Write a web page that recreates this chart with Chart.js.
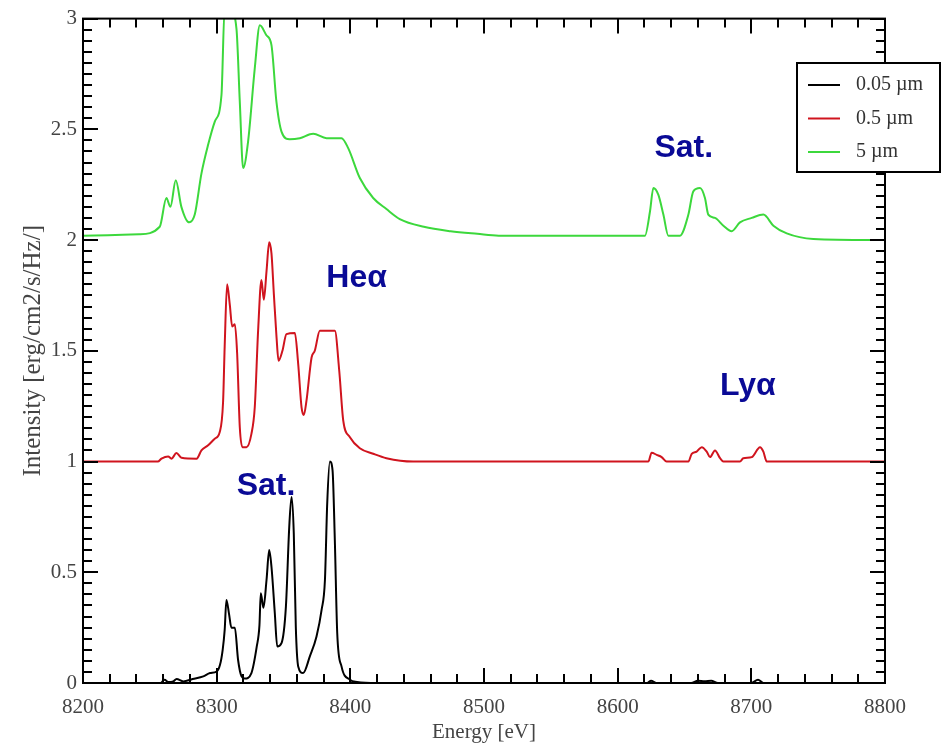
<!DOCTYPE html>
<html>
<head>
<meta charset="utf-8">
<script src="https://cdn.jsdelivr.net/npm/chart.js@4/dist/chart.umd.min.js"></script>
<style>
  body { margin: 0; background: #fff; }
  canvas { display: block; }
</style>
</head>
<body>
<canvas id="chart" width="946" height="747"></canvas>
<script>
// spectra: energy [eV] and intensity for each slab thickness
const blackEnergy = [8200, 8258, 8261, 8264, 8267.5, 8270, 8275, 8282, 8290, 8295,
  8300, 8302.5, 8304.5, 8306, 8307.3, 8309.3, 8311, 8313.6, 8316, 8318.6,
  8321, 8326, 8330, 8332, 8333, 8335, 8337.3, 8339.3, 8341, 8343.5,
  8345.3, 8348.5, 8351.8, 8354.3, 8356, 8357.7, 8359.2, 8361, 8364.7, 8369.7,
  8374.7, 8378.5, 8381, 8382.7, 8384.7, 8386.7, 8388.4, 8390.2, 8393.4, 8399.7,
  8405, 8420, 8622, 8625, 8629, 8655, 8660, 8665, 8670, 8675,
  8700, 8705, 8709, 8800];
const blackIntensity = [0, 0, 0.015, 0.004, 0.007, 0.018, 0.007, 0.018, 0.03, 0.045,
  0.052, 0.082, 0.15, 0.24, 0.375, 0.31, 0.25, 0.25, 0.105, 0.03,
  0.02, 0.045, 0.165, 0.26, 0.405, 0.34, 0.465, 0.6, 0.525, 0.315,
  0.165, 0.18, 0.345, 0.705, 0.84, 0.675, 0.255, 0.075, 0.045, 0.12,
  0.21, 0.33, 0.465, 0.81, 1.0, 0.96, 0.645, 0.225, 0.075, 0.015,
  0.005, 0, 0, 0.01, 0, 0, 0.01, 0.008, 0.01, 0,
  0, 0.015, 0, 0];

const redEnergy = [8200, 8256, 8258.7, 8263.7, 8266.2, 8269.9, 8273.7, 8285, 8288.6, 8293.6,
  8298.6, 8302.3, 8304.8, 8306, 8307.8, 8309.8, 8311.6, 8313.6, 8315.3, 8317.3,
  8319.3, 8322.3, 8326, 8328.5, 8331, 8333.5, 8335.3, 8337.3, 8339.3, 8341,
  8342.8, 8344.8, 8346.3, 8349.2, 8352.2, 8358.5, 8361, 8363.5, 8365.2, 8367.2,
  8371, 8373.4, 8377.2, 8388.4, 8391.7, 8394.7, 8399.7, 8407.1, 8417.1, 8427,
  8447, 8623, 8625.4, 8629.2, 8632.9, 8636.6, 8652.9, 8655.4, 8659.1, 8662.9,
  8666.6, 8669.1, 8672.8, 8676.6, 8679.1, 8691.5, 8694, 8700.3, 8706.5, 8709,
  8711.5, 8800];
const redIntensity = [1.0, 1.0, 1.013, 1.023, 1.013, 1.038, 1.017, 1.013, 1.05, 1.073,
  1.103, 1.133, 1.27, 1.52, 1.80, 1.71, 1.61, 1.62, 1.49, 1.155,
  1.065, 1.065, 1.125, 1.245, 1.59, 1.82, 1.73, 1.86, 1.99, 1.94,
  1.755, 1.56, 1.455, 1.5, 1.575, 1.58, 1.44, 1.245, 1.21, 1.275,
  1.47, 1.5, 1.59, 1.59, 1.41, 1.185, 1.11, 1.06, 1.035, 1.015,
  1.0, 1.0, 1.04, 1.03, 1.02, 1.0, 1.0, 1.035, 1.045, 1.065,
  1.045, 1.02, 1.05, 1.015, 1.0, 1.0, 1.015, 1.02, 1.065, 1.045,
  1.0, 1.0];

const greenEnergy = [8200, 8242, 8257.4, 8262.4, 8265.4, 8269.4, 8273.6, 8279.4, 8283.6, 8288.6,
  8293.6, 8298.6, 8303.6, 8306, 8309.8, 8314.8, 8317.3, 8319.8, 8323.5, 8328.5,
  8332.3, 8337.2, 8341, 8344.7, 8348.5, 8354.7, 8362.2, 8372.2, 8382.2, 8393.4,
  8398.4, 8407.1, 8417.1, 8427, 8437, 8455, 8475, 8495, 8511, 8620.4,
  8624.2, 8626.7, 8630.4, 8634.2, 8637.9, 8646.6, 8652.9, 8656.6, 8661.6, 8665.3,
  8667.8, 8672.8, 8679.1, 8685.3, 8691.5, 8700.3, 8709, 8716.5, 8726.5, 8746.4,
  8800];
const greenIntensity = [2.02, 2.026, 2.06, 2.19, 2.15, 2.27, 2.15, 2.08, 2.115, 2.30,
  2.43, 2.535, 2.655, 3.05, 3.05, 2.955, 2.625, 2.325, 2.445, 2.775,
  2.97, 2.925, 2.88, 2.625, 2.49, 2.455, 2.46, 2.48, 2.46, 2.46,
  2.415, 2.28, 2.19, 2.14, 2.095, 2.06, 2.04, 2.028, 2.02, 2.02,
  2.13, 2.235, 2.205, 2.115, 2.02, 2.02, 2.115, 2.22, 2.235, 2.19,
  2.115, 2.10, 2.065, 2.04, 2.08, 2.10, 2.115, 2.065, 2.03, 2.005,
  2.0];

const seriesLabels = ['0.05 \u00b5m', '0.5 \u00b5m', '5 \u00b5m'];
const seriesColors = ['#000000', '#d0141e', '#3cd83c'];

// line labels placed in data coordinates (left edge, vertical middle)
const noteTexts = ['Sat.', 'He\u03b1', 'Ly\u03b1', 'Sat.'];
const noteEnergy = [8627.5, 8382, 8676.5, 8315];
const noteIntensity = [2.415, 1.83, 1.34, 0.89];

const xMin = 8200, xMax = 8800, xMajor = 100, xMinor = 20;
const yMin = 0, yMax = 3, yMajor = 0.5, yMinor = 0.05;

const serif = "'Liberation Serif', 'Times New Roman', serif";

function toPoints(xs, ys) {
  return xs.map((e, i) => ({ x: e, y: ys[i] }));
}

const datasets = [
  toPoints(blackEnergy, blackIntensity),
  toPoints(redEnergy, redIntensity),
  toPoints(greenEnergy, greenIntensity),
].map((pts, i) => ({
  label: seriesLabels[i],
  data: pts,
  borderColor: seriesColors[i],
  borderWidth: 2,
  pointRadius: 0,
  cubicInterpolationMode: 'monotone',
  fill: false,
}));

// frame with inward ticks on all four sides, text labels and the boxed legend
const framePlugin = {
  id: 'frame',
  afterDatasetsDraw(chart) {
    const { ctx, chartArea: a, scales: { x, y } } = chart;
    ctx.save();
    ctx.strokeStyle = '#000';
    ctx.lineWidth = 2;
    ctx.strokeRect(a.left, a.top, a.right - a.left, a.bottom - a.top);

    ctx.beginPath();
    const nx = Math.round((xMax - xMin) / xMinor);
    const perX = Math.round(xMajor / xMinor);
    for (let i = 0; i <= nx; i++) {
      const px = Math.round(x.getPixelForValue(xMin + i * xMinor));
      const len = i % perX === 0 ? 15 : 9;
      ctx.moveTo(px, a.bottom); ctx.lineTo(px, a.bottom - len);
      ctx.moveTo(px, a.top); ctx.lineTo(px, a.top + len);
    }
    const ny = Math.round((yMax - yMin) / yMinor);
    const perY = Math.round(yMajor / yMinor);
    for (let i = 0; i <= ny; i++) {
      const py = Math.round(y.getPixelForValue(yMin + i * yMinor));
      const len = i % perY === 0 ? 15 : 9;
      ctx.moveTo(a.left, py); ctx.lineTo(a.left + len, py);
      ctx.moveTo(a.right, py); ctx.lineTo(a.right - len, py);
    }
    ctx.stroke();

    // annotations
    ctx.fillStyle = '#0a0a96';
    ctx.font = "bold 32px 'Liberation Sans', Arial, sans-serif";
    ctx.textAlign = 'left';
    ctx.textBaseline = 'middle';
    noteTexts.forEach((t, i) => {
      ctx.fillText(t, x.getPixelForValue(noteEnergy[i]), y.getPixelForValue(noteIntensity[i]));
    });

    // legend box
    const bx = 797, by = 63, bw = 143, bh = 109;
    ctx.fillStyle = '#fff';
    ctx.fillRect(bx, by, bw, bh);
    ctx.strokeRect(bx, by, bw, bh);
    ctx.font = '20px ' + serif;
    ctx.textBaseline = 'middle';
    chart.data.datasets.forEach((ds, i) => {
      const ly = by + 22 + i * 33.5;
      ctx.strokeStyle = ds.borderColor;
      ctx.lineWidth = 2;
      ctx.beginPath();
      ctx.moveTo(bx + 11, ly); ctx.lineTo(bx + 43, ly);
      ctx.stroke();
      ctx.fillStyle = '#333';
      ctx.fillText(ds.label, bx + 59, ly);
    });
    ctx.restore();
  }
};

new Chart(document.getElementById('chart'), {
  type: 'line',
  data: { datasets },
  plugins: [framePlugin],
  options: {
    responsive: false,
    animation: false,
    layout: { padding: { top: 17, right: 61, bottom: 0, left: 0 } },
    plugins: { legend: { display: false }, tooltip: { enabled: false } },
    scales: {
      x: {
        type: 'linear',
        min: xMin, max: xMax,
        afterFit: s => { s.height = 64; },
        grid: { display: false, drawTicks: false },
        border: { display: false },
        ticks: {
          stepSize: xMajor,
          padding: 12,
          color: '#444',
          font: { family: serif, size: 21 },
          maxRotation: 0,
          callback: v => String(v),
        },
        title: {
          display: true,
          text: 'Energy [eV]',
          color: '#444',
          font: { family: serif, size: 21 },
          padding: { top: 0, bottom: 2 },
        },
      },
      y: {
        min: yMin, max: yMax,
        afterFit: s => { s.width = 83; },
        grid: { display: false, drawTicks: false },
        border: { display: false },
        ticks: {
          stepSize: yMajor,
          padding: 6,
          color: '#444',
          font: { family: serif, size: 21 },
          callback: v => String(v),
        },
        title: {
          display: true,
          text: 'Intensity [erg/cm2/s/Hz/]',
          color: '#444',
          font: { family: serif, size: 25 },
          padding: { top: 18, bottom: 0 },
        },
      },
    },
  },
});
</script>
</body>
</html>
